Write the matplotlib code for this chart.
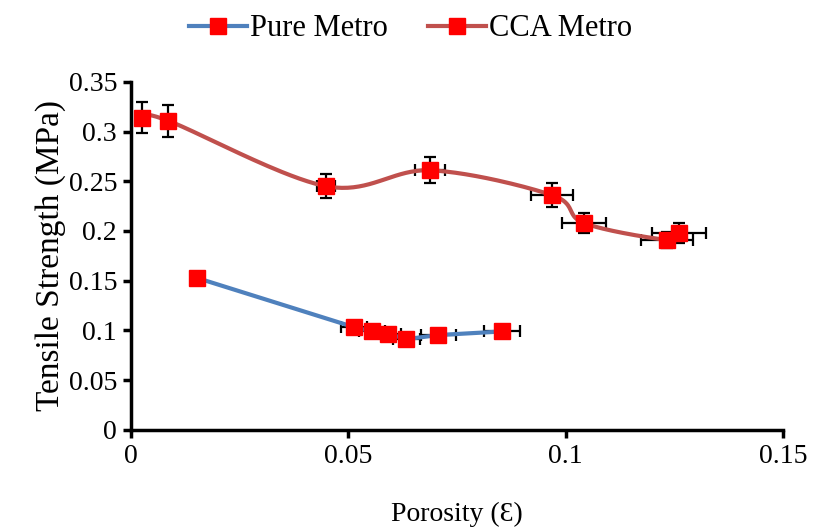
import numpy as np
import matplotlib
matplotlib.use("Agg")
import matplotlib.pyplot as plt

plt.rcParams['font.family'] = ['Liberation Serif', 'DejaVu Serif']

# CCA metro data
cca_x = [0.0025, 0.0085, 0.0449, 0.0688, 0.0969, 0.1042, 0.1233, 0.1261]
cca_y = [0.314, 0.311, 0.245, 0.261, 0.236, 0.208, 0.191, 0.198]
cca_xerr = [0.0005, 0.0005, 0.002, 0.0035, 0.0048, 0.005, 0.006, 0.0063]
cca_yerr = [0.0156, 0.016, 0.012, 0.013, 0.012, 0.01, 0.008, 0.01]

# Pure metro data
pure_x = [0.0153, 0.0513, 0.0554, 0.0592, 0.0634, 0.0707, 0.0854]
pure_y = [0.1526, 0.1033, 0.0989, 0.0966, 0.0912, 0.0953, 0.0989]
pure_xerr = [0.0005, 0.003, 0.003, 0.003, 0.003, 0.004, 0.0042]
pure_yerr = [0.006, 0.004, 0.004, 0.004, 0.005, 0.004, 0.003]

xticks = [0, 0.05, 0.1, 0.15]
xticklabels = ['0', '0.05', '0.1', '0.15']
yticks = [0, 0.05, 0.1, 0.15, 0.2, 0.25, 0.3, 0.35]
yticklabels = ['0', '0.05', '0.1', '0.15', '0.2', '0.25', '0.3', '0.35']

blue = '#4F81BD'
red_line = '#C0504D'


def smooth_curve(x, y, n=40):
    # Excel style smoothed line: cubic bezier with catmull-rom control points
    pts = np.column_stack([x, y])
    sx, sy = 1 / 0.15, 1 / 0.35
    p = pts * [sx, sy]
    out = []
    for i in range(len(p) - 1):
        p0 = p[i - 1] if i > 0 else p[i]
        p1, p2 = p[i], p[i + 1]
        p3 = p[i + 2] if i + 2 < len(p) else p[i + 1]
        c1 = p1 + (p2 - p0) / 6
        c2 = p2 - (p3 - p1) / 6
        t = np.linspace(0, 1, n)[:, None]
        seg = ((1 - t) ** 3) * p1 + 3 * ((1 - t) ** 2) * t * c1 + 3 * (1 - t) * t ** 2 * c2 + t ** 3 * p2
        out.append(seg)
    out = np.vstack(out) / [sx, sy]
    return out[:, 0], out[:, 1]


fig = plt.figure(figsize=(8.13, 5.28), dpi=100)
ax = fig.add_axes([0.161, 0.186, 0.802, 0.659])

err_kw = dict(fmt='none', ecolor='black', elinewidth=1.6, capsize=4.3, capthick=1.6, zorder=2)

ax.errorbar(pure_x, pure_y, xerr=pure_xerr, yerr=pure_yerr, **err_kw)
ax.errorbar(cca_x, cca_y, xerr=cca_xerr, yerr=cca_yerr, **err_kw)

ax.plot(pure_x, pure_y, color=blue, lw=3, zorder=3)
sx_, sy_ = smooth_curve(cca_x, cca_y)
ax.plot(sx_, sy_, color=red_line, lw=3, zorder=3)

ax.plot(pure_x, pure_y, ls='none', marker='s', ms=11, color='red', zorder=4)
ax.plot(cca_x, cca_y, ls='none', marker='s', ms=11, color='red', zorder=4)

# legend handles
h1, = ax.plot([], [], color=blue, lw=3, marker='s', ms=11, mfc='red', mec='red', label='Pure Metro')
h2, = ax.plot([], [], color=red_line, lw=3, marker='s', ms=11, mfc='red', mec='red', label='CCA Metro')
fig.legend(handles=[h1, h2], loc='upper center', bbox_to_anchor=(0.505, 1.025), ncol=2,
           frameon=False, fontsize=22, handlelength=1.9, handletextpad=0.1, columnspacing=1.3)

ax.set_xlim(0, 0.15)
ax.set_ylim(0, 0.35)
ax.set_xticks(xticks)
ax.set_xticklabels(xticklabels)
ax.set_yticks(yticks)
ax.set_yticklabels(yticklabels)
ax.tick_params(labelsize=20, direction='out', length=6, width=2.5, pad=4)

for side in ['top', 'right']:
    ax.spines[side].set_visible(False)
for side in ['left', 'bottom']:
    ax.spines[side].set_linewidth(2.5)

ax.set_xlabel('Porosity (Ɛ)', fontsize=20, labelpad=24)
ax.set_ylabel('Tensile Strength (MPa)', fontsize=24, labelpad=2)

fig.savefig('out.png', dpi=100)
